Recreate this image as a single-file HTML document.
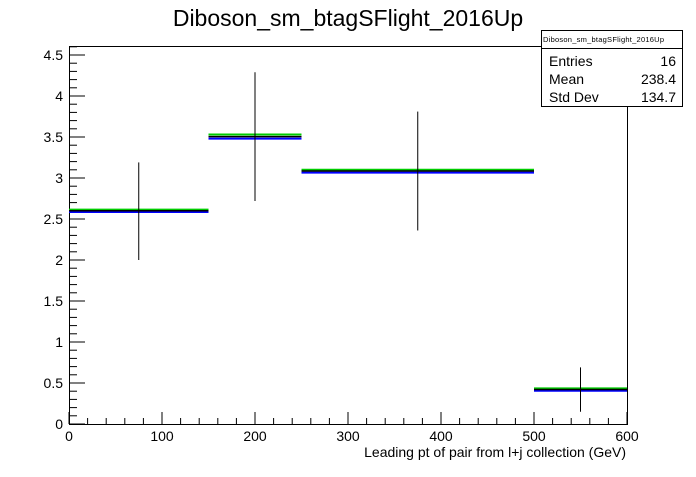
<!DOCTYPE html>
<html><head><meta charset="utf-8"><style>
body{margin:0;background:#fff;}
svg text{font-family:"Liberation Sans",Arial,sans-serif;}
</style></head><body>
<svg id="chart" width="696" height="472" xmlns="http://www.w3.org/2000/svg">
<rect width="696" height="472" fill="#fff"/>
<text x="348" y="26" font-size="23" text-anchor="middle">Diboson_sm_btagSFlight_2016Up</text>
<g id="axes"></g>
<g id="marks"></g>
<g>
<rect x="541.5" y="30.5" width="141" height="76" fill="#fff" stroke="#000"/>
<line x1="541" y1="48.5" x2="683" y2="48.5" stroke="#000"/>
<text x="543" y="42" font-size="7.5" textLength="121">Diboson_sm_btagSFlight_2016Up</text>
<text x="549" y="66" font-size="14">Entries</text>
<text x="676" y="66" font-size="14" text-anchor="end">16</text>
<text x="549" y="84" font-size="14">Mean</text>
<text x="676" y="84" font-size="14" text-anchor="end">238.4</text>
<text x="549" y="102" font-size="14">Std Dev</text>
<text x="676" y="102" font-size="14" text-anchor="end">134.7</text>
</g>
<text x="626" y="457" font-size="14" text-anchor="end">Leading pt of pair from l+j collection (GeV)</text>
</svg>
<script>
const binEdges=[0,150,250,500,600];
const nominal=[2.60,3.505,3.085,0.42];
const upVals=[2.615,3.53,3.10,0.435];
const downVals=[2.585,3.48,3.065,0.405];
const errLow=[2.0,2.72,2.36,0.15];
const errHigh=[3.19,4.29,3.81,0.69];
const xTicks=[0,100,200,300,400,500,600];
const yTicks=[0,0.5,1,1.5,2,2.5,3,3.5,4,4.5];
const L=69,R=627,T=46,B=424,XMAX=600,YMAX=(B-T)/82;
const xs=v=>L+(v/XMAX)*(R-L);
const ys=v=>B-(v/YMAX)*(B-T);
const NS="http://www.w3.org/2000/svg";
function mk(tag,attrs,parent){const e=document.createElementNS(NS,tag);for(const k in attrs)e.setAttribute(k,attrs[k]);parent.appendChild(e);return e;}
const ax=document.getElementById('axes'),mg=document.getElementById('marks');
const frame=mk('rect',{x:L+.5,y:T+.5,width:R-L,height:B-T,fill:'none',stroke:'#000'},ax);


for(let v=0;v<=XMAX;v+=20){const big=v%100===0;const t=mk('line',{x1:xs(v),x2:xs(v),y1:B,y2:B-(big?12:6),stroke:'#000'},ax);

}
xTicks.forEach(v=>{const t=mk('text',{x:xs(v),y:441,'font-size':14,'text-anchor':'middle'},ax);t.textContent=v;

});
for(let i=0;i*0.1<=YMAX;i++){const big=i%5===0;const t=mk('line',{x1:L,x2:L+(big?16:8),y1:ys(i*0.1),y2:ys(i*0.1),stroke:'#000'},ax);

}
yTicks.forEach(v=>{const t=mk('text',{x:L-6,y:ys(v)+5,'font-size':14,'text-anchor':'end'},ax);t.textContent=v;

});
for(let i=0;i<nominal.length;i++){
 const x0=xs(binEdges[i]),x1=xs(binEdges[i+1]),cx=(x0+x1)/2;
 const g=mk('line',{x1:x0,x2:x1,y1:ys(upVals[i]),y2:ys(upVals[i]),stroke:'#00cc00','stroke-width':2},mg);
 
 
 const b=mk('line',{x1:x0,x2:x1,y1:ys(downVals[i]),y2:ys(downVals[i]),stroke:'#0000ff','stroke-width':2},mg);
 
 
 const n=mk('line',{x1:x0,x2:x1,y1:ys(nominal[i]),y2:ys(nominal[i]),stroke:'#000','stroke-width':1.5},mg);
 
 
 const e=mk('line',{x1:cx,x2:cx,y1:ys(errLow[i]),y2:ys(errHigh[i]),stroke:'#000','stroke-width':1},mg);
 
 
}
</script>
</body></html>
